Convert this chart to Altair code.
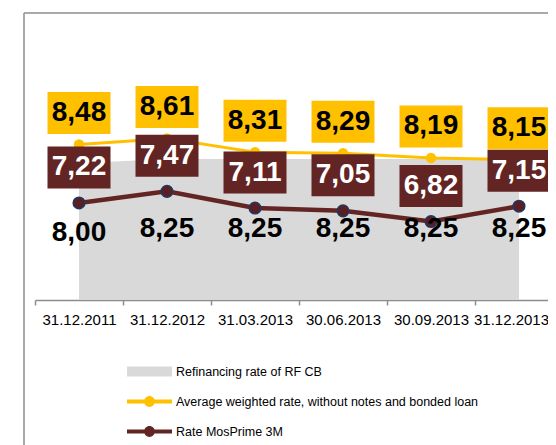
import altair as alt
import pandas as pd

# ---- data ----
dates = ["31.12.2011", "31.12.2012", "31.03.2013", "30.06.2013", "30.09.2013", "31.12.2013"]
refi = [8.00, 8.25, 8.25, 8.25, 8.25, 8.25]
avg_rate = [8.48, 8.61, 8.31, 8.29, 8.19, 8.15]
mosprime = [7.22, 7.47, 7.11, 7.05, 6.82, 7.15]

REFI = "Refinancing rate of RF CB"
AVG = "Average weighted rate, without notes and bonded loan"
MOS = "Rate MosPrime 3M"
series_names = [REFI, AVG, MOS]
series_colors = ["#D9D9D9", "#FFC000", "#632523"]


def fmt(v):
    return f"{v:.2f}".replace(".", ",")


lines_df = pd.DataFrame({
    "date": dates * 2,
    "series": [AVG] * len(dates) + [MOS] * len(dates),
    "value": avg_rate + mosprime,
})
lines_df["label"] = lines_df["value"].map(fmt)

refi_df = pd.DataFrame({
    "date": dates,
    "series": [REFI] * len(dates),
    "value": refi,
    "label": [fmt(v) for v in refi],
})

legend_df = pd.DataFrame({"series": series_names})

FONT = "Liberation Sans"
VAL_SIZE = 28
BOX = "M-1,-0.667L1,-0.667L1,0.667L-1,0.667Z"
LEG_RECT = "M-3,-0.667L3,-0.667L3,0.667L-3,0.667Z"
LEG_LINE = "M-3,-0.27L3,-0.27L3,0.27L-3,0.27Z M0.72,0A0.72,0.72 0 1,1 -0.72,0A0.72,0.72 0 1,1 0.72,0Z"

legend = alt.Legend(
    title=None, orient="none", legendX=118, legendY=351, direction="vertical",
    symbolSize=225, symbolOpacity=1, symbolStrokeWidth=0,
    labelFont=FONT, labelFontSize=12.5, labelColor="black",
    labelOffset=19, rowPadding=16, padding=0, labelLimit=500,
)

x_enc = alt.X(
    "date:N", sort=dates,
    scale=alt.Scale(range=[11, 539], paddingInner=0, paddingOuter=0),
    axis=alt.Axis(title=None, labelAngle=0, tickBand="extent", domainColor="#8c8c8c",
                  tickColor="#8c8c8c", tickSize=5, domainWidth=1.5, tickWidth=1.5,
                  labelFont=FONT, labelFontSize=15, labelColor="black",
                  labelOffset={"condition": {"test": f"datum.value === '{dates[-1]}'", "value": -8}, "value": 0},
                  labelPadding=7, labelOverlap=False, grid=False),
)
y_line = alt.Y("value:Q", scale=alt.Scale(domain=[5.13, 11.31], nice=False, zero=False), axis=None)
y_refi = alt.Y("value:Q", scale=alt.Scale(domain=[0, 16.8], nice=False, zero=False), axis=None)

area = alt.Chart(refi_df).mark_area(opacity=1, color=series_colors[0]).encode(x=x_enc, y=y_refi)

line_avg = alt.Chart(lines_df).transform_filter(alt.datum.series == AVG).mark_line(
    color=series_colors[1], strokeWidth=3).encode(x=x_enc, y=y_line)
line_mos = alt.Chart(lines_df).transform_filter(alt.datum.series == MOS).mark_line(
    color=series_colors[2], strokeWidth=4.5).encode(x=x_enc, y=y_line)

pts_avg = alt.Chart(lines_df).transform_filter(alt.datum.series == AVG).mark_point(
    filled=True, opacity=1, size=110, color="#FFC000"
).encode(x=x_enc, y=y_line)

pts_mos = alt.Chart(lines_df).transform_filter(alt.datum.series == MOS).mark_point(
    filled=True, opacity=1, size=135, color="#5A1F22", stroke="#1F3864", strokeWidth=1.5
).encode(x=x_enc, y=y_line)

refi_labels = alt.Chart(refi_df).mark_text(
    font=FONT, fontSize=VAL_SIZE, fontWeight="bold", color="black", baseline="middle", dy=70
).encode(x=x_enc, y=y_refi, text="label:N")

box_avg = alt.Chart(lines_df).transform_filter(alt.datum.series == AVG).mark_point(
    filled=True, opacity=1, shape=BOX, size=3969, color="#FFC000", yOffset=-31.5
).encode(x=x_enc, y=y_line)
txt_avg = alt.Chart(lines_df).transform_filter(alt.datum.series == AVG).mark_text(
    font=FONT, fontSize=VAL_SIZE, fontWeight="bold", color="black", baseline="middle", dy=-31.5
).encode(x=x_enc, y=y_line, text="label:N")

box_mos = alt.Chart(lines_df).transform_filter(alt.datum.series == MOS).mark_point(
    filled=True, opacity=1, shape=BOX, size=3969, color="#632523", yOffset=-35.5
).encode(x=x_enc, y=y_line)
txt_mos = alt.Chart(lines_df).transform_filter(alt.datum.series == MOS).mark_text(
    font=FONT, fontSize=VAL_SIZE, fontWeight="bold", color="white", baseline="middle", dy=-35.5
).encode(x=x_enc, y=y_line, text="label:N")

# legend-only layer (invisible marks, legend symbols drawn at full opacity)
legend_layer = alt.Chart(legend_df).mark_point(filled=True, opacity=0, size=225).encode(
    x=alt.value(0), y=alt.value(0),
    color=alt.Color("series:N", scale=alt.Scale(domain=series_names, range=series_colors), legend=legend),
    shape=alt.Shape("series:N", scale=alt.Scale(domain=series_names, range=[LEG_RECT, LEG_LINE, LEG_LINE]), legend=legend),
)

frame = pd.DataFrame({"k": [0]})
top_border = alt.Chart(frame).mark_rule(color="#8c8c8c", strokeWidth=1.5).encode(
    x=alt.value(0), x2=alt.value(524), y=alt.value(0))
left_border = alt.Chart(frame).mark_rule(color="#8c8c8c", strokeWidth=1.5).encode(
    x=alt.value(0), y=alt.value(0), y2=alt.value(440))

chart = alt.layer(
    area, line_avg, line_mos, pts_avg, pts_mos, refi_labels, box_avg, txt_avg, box_mos, txt_mos,
    legend_layer, top_border, left_border,
).resolve_scale(y="independent").properties(
    width=524, height=287,
    autosize=alt.AutoSizeParams(type="none"),
    padding={"left": 16, "top": 5, "right": 0, "bottom": 145},
    background="white",
).configure_view(stroke=None)

chart.save("out.html", embed_options={"renderer": "svg", "actions": False})
